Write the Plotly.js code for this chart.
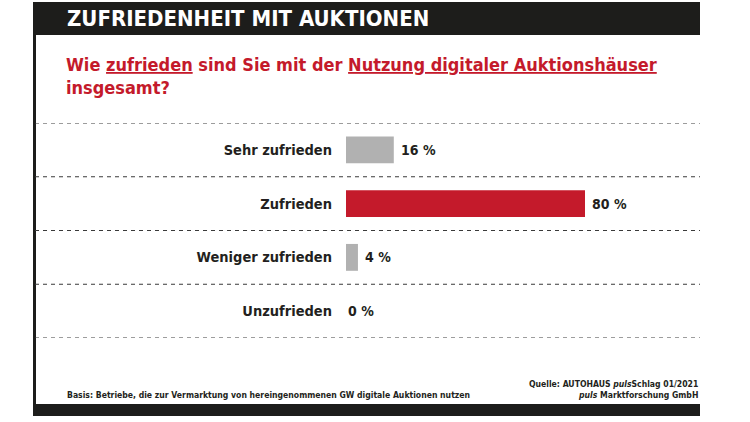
<!DOCTYPE html>
<html><head><meta charset="utf-8">
<script src="https://cdn.plot.ly/plotly-3.0.1.min.js"></script>
<style>html,body{margin:0;padding:0;background:#fff;}#chart{width:750px;height:422px;}</style>
</head><body><div id="chart"></div>
<script>
const categories = ["Sehr zufrieden", "Zufrieden", "Weniger zufrieden", "Unzufrieden"];
const values = [16, 80, 4, 0];
const valueLabels = ["16 %", "80 %", "4 %", "0 %"];
const barColors = ["#b1b1b1", "#c41a2b", "#b1b1b1", "#b1b1b1"];

const FONT = '"DejaVu Sans Condensed", "Liberation Sans Narrow", sans-serif';
const W = 750, H = 422;
const M = {l: 346, r: 50, t: 123, b: 84};
const pw = W - M.l - M.r, ph = H - M.t - M.b;
const px = v => (v - M.l) / pw;
const py = v => (H - M.b - v) / ph;

const shapes = [];
for (let i = 0; i <= categories.length; i++) {
  shapes.push({type:'line', xref:'paper', yref:'y', x0:px(35), x1:px(700), y0:i-0.5, y1:i-0.5,
    line:{color:'#3a3a3a', width:1, dash:'4px,4px'}});
}
shapes.push({type:'rect', xref:'paper', yref:'paper', x0:px(33), x1:px(700), y0:py(35), y1:py(2), fillcolor:'#1d1d1b', line:{width:0}, layer:'below'});
shapes.push({type:'rect', xref:'paper', yref:'paper', x0:px(33), x1:px(36), y0:py(416), y1:py(35), fillcolor:'#1d1d1b', line:{width:0}, layer:'below'});
shapes.push({type:'rect', xref:'paper', yref:'paper', x0:px(33), x1:px(700), y0:py(416), y1:py(404), fillcolor:'#1d1d1b', line:{width:0}, layer:'below'});

const annotations = [];
annotations.push({xref:'paper', yref:'paper', x:px(65), y:py(19), xanchor:'left', yanchor:'middle', showarrow:false,
  text:'<b>ZUFRIEDENHEIT MIT AUKTIONEN</b>', font:{family:FONT, size:22, color:'#ffffff'}});
annotations.push({xref:'paper', yref:'paper', x:px(64), y:py(76), xanchor:'left', yanchor:'middle', align:'left', showarrow:false,
  text:'<b>Wie <u>zufrieden</u> sind Sie mit der <u>Nutzung digitaler Auktionshäuser</u><br>insgesamt?</b>',
  font:{family:FONT, size:18, color:'#c41a2b'}});
annotations.push({xref:'paper', yref:'paper', x:px(65), y:py(395), xanchor:'left', yanchor:'middle', showarrow:false,
  text:'<b>Basis: Betriebe, die zur Vermarktung von hereingenommenen GW digitale Auktionen nutzen</b>',
  font:{family:FONT, size:8.6, color:'#231f20'}});
annotations.push({xref:'paper', yref:'paper', x:px(700), y:py(389), xanchor:'right', yanchor:'middle', align:'right', showarrow:false,
  text:'<b>Quelle: AUTOHAUS <i>puls</i>Schlag 01/2021<br><i>puls</i> Marktforschung GmbH</b>',
  font:{family:FONT, size:8.6, color:'#231f20'}});
categories.forEach((c, i) => {
  annotations.push({xref:'x', yref:'y', x:values[i], y:c, xanchor:'left', yanchor:'middle', xshift: values[i] > 0 ? 5 : 0, showarrow:false,
    text:'<b>' + valueLabels[i] + '</b>', font:{family:FONT, size:14, color:'#231f20'}});
});

const data = [{
  type:'bar', orientation:'h', y:categories, x:values, width:0.5,
  marker:{color:barColors, line:{width:0}}, hoverinfo:'skip'
}];

const layout = {
  width:W, height:H, margin:M, paper_bgcolor:'#ffffff', plot_bgcolor:'rgba(0,0,0,0)',
  showlegend:false,
  xaxis:{range:[0, pw/(239/80)], showgrid:false, zeroline:false, showticklabels:false, showline:false, fixedrange:true},
  yaxis:{type:'category', autorange:false, range:[3.5,-0.5], showgrid:false, zeroline:false, showline:false, ticks:'',
    ticklabelstandoff:13, tickfont:{family:FONT, size:14.5, color:'#231f20', weight:'bold'}},
  shapes:shapes, annotations:annotations, font:{family:FONT}
};
Plotly.newPlot('chart', data, layout, {staticPlot:true, displayModeBar:false});
</script></body></html>
